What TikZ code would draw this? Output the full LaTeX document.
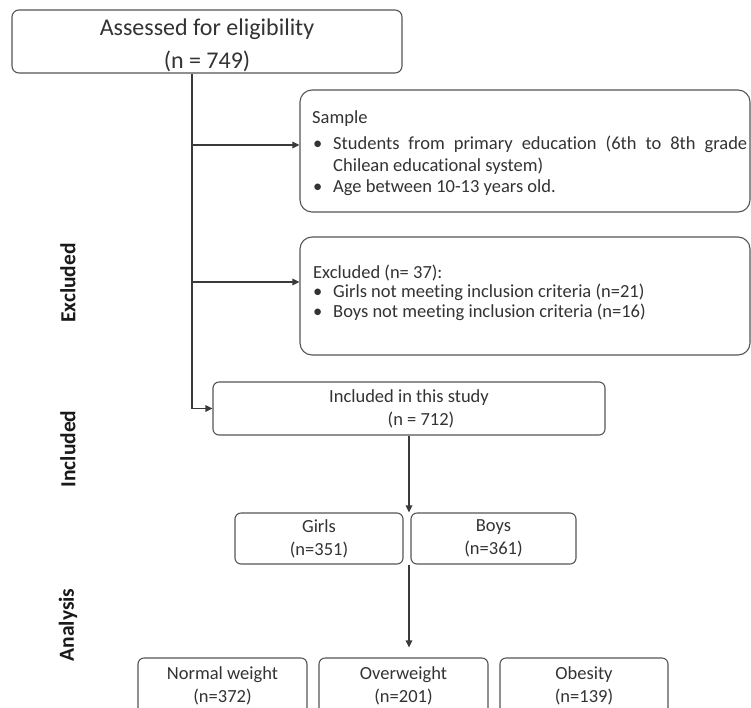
\documentclass[tikz,border=0pt]{standalone}
\usepackage{fontspec}
\setmainfont{Carlito}[Ligatures=NoCommon]
\usetikzlibrary{arrows.meta}
\definecolor{linegray}{HTML}{3A3A3A}
\definecolor{boxgray}{HTML}{555555}
\definecolor{txtgray}{HTML}{333333}
\begin{document}
\begin{tikzpicture}[x=1pt,y=-1pt,
  box/.style={draw=boxgray,line width=1.1pt,rounded corners=7pt,fill=white,text=txtgray,align=center,inner sep=0pt},
  txt/.style={font=\fontsize{18.5}{23}\selectfont},
  arr/.style={draw=linegray,line width=1.1pt,-{Triangle[length=7pt,width=6.5pt]}},
  side/.style={rotate=90,font=\bfseries\fontsize{21.5}{24}\selectfont,text=black!90},
  listtxt/.style={anchor=base west,inner sep=0pt,text=txtgray,align=left}]
\useasboundingbox (0,0) rectangle (751,707);
\clip (0,0) rectangle (751,707);
% boxes
\node[box,minimum width=390pt,minimum height=63pt,font=\fontsize{24}{33}\selectfont] (ass) at (207,41.5) {\rule{0pt}{24pt}Assessed for eligibility\\(n = 749)};
\node[box,rounded corners=12pt,minimum width=450pt,minimum height=122pt] (smp) at (525,151) {};
\node[listtxt,font=\fontsize{18.5}{21.5}\selectfont] (smptxt) at (312,123) {\parbox[t]{435pt}{\setlength{\parindent}{0pt}Sample\par\vspace{5pt}
\hangindent=21pt\hangafter=1\makebox[21pt][l]{\hspace{1pt}\textbullet}\makebox[414pt][s]{Students from primary education (6th to 8th grade}\\Chilean educational system)\par
\makebox[21pt][l]{\hspace{1pt}\textbullet}Age between 10-13 years old.}};
\node[box,rounded corners=12pt,minimum width=450pt,minimum height=118pt] (exc) at (525,296) {};
\node[listtxt,font=\fontsize{18.5}{19.5}\selectfont] (exctxt) at (313,278) {\parbox[t]{435pt}{\setlength{\parindent}{0pt}Excluded (n= 37):\par
\makebox[20pt][l]{\textbullet}Girls not meeting inclusion criteria (n=21)\par
\makebox[20pt][l]{\textbullet}Boys not meeting inclusion criteria (n=16)}};
\node[box,txt,minimum width=392pt,minimum height=53pt,rounded corners=6pt] (inc) at (409,408.5) {Included in this study\\\hspace*{24pt}(n = 712)};
\node[box,txt,minimum width=168pt,minimum height=51pt,rounded corners=6pt] (girls) at (319,538.5) {Girls\\(n=351)};
\node[box,txt,minimum width=165pt,minimum height=51pt,rounded corners=6pt] (boys) at (493.5,538.5) {Boys\\(n=361)};
\node[box,txt,minimum width=169pt,minimum height=56pt,rounded corners=6pt] (normal) at (222.5,686) {Normal weight\\(n=372)};
\node[box,txt,minimum width=169pt,minimum height=56pt,rounded corners=6pt] (over) at (403.5,686) {Overweight\\(n=201)};
\node[box,txt,minimum width=168pt,minimum height=56pt,rounded corners=6pt] (obes) at (584,686) {Obesity\\(n=139)};
% side labels
\node[side] (lexc) at (68,283) {Excluded};
\node[side] (linc) at (68,449) {Included};
\node[side] (lana) at (68,625) {Analysis};
% connectors
\coordinate (v) at (192,0);
\path ([yshift=6pt]smp.west) coordinate (sa);
\path ([yshift=14pt]exc.west) coordinate (ea);
\draw[arr] (ass.south -| v) |- (inc.west);
\draw[arr] (sa -| v) -- (sa);
\draw[arr] (ea -| v) -- (ea);
\draw[arr] (inc.south) -- (inc.south |- girls.north);
\path ([yshift=10pt]over.north) coordinate (ot);
\coordinate (tip) at (ot -| inc.south);
\draw[arr] (inc.south |- girls.south) -- (tip);
\end{tikzpicture}
\end{document}
